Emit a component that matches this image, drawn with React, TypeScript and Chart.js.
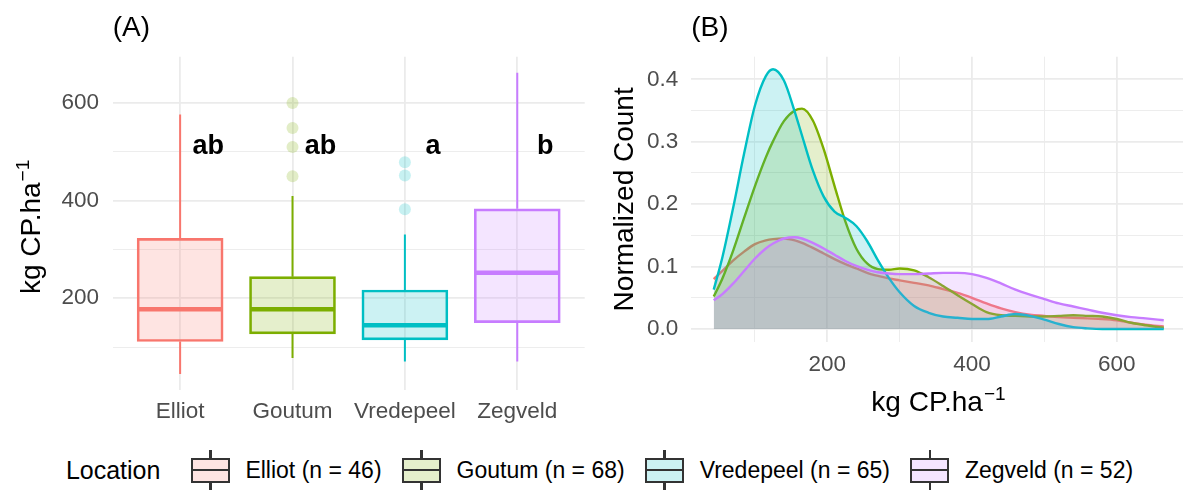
import React, { useEffect, useRef } from "react";
import { Chart, registerables } from "chart.js";

Chart.register(...registerables);

// ---------- data ----------
const locations = ["Elliot", "Goutum", "Vredepeel", "Zegveld"];
const sampleSizes = [46, 68, 65, 52];
const palette = ["#F8766D", "#7CAE00", "#00BFC4", "#C77CFF"];

// box-plot summaries (kg CP.ha-1)
const whiskerLow = [44.7, 77.4, 70.5, 70.5];
const quartile1 = [111.3, 127.1, 114.8, 150.2];
const medians = [177.6, 177.6, 144.9, 252.4];
const quartile3 = [322.7, 244.2, 217.0, 383.2];
const whiskerHigh = [576.8, 409.8, 330.9, 662.0];
const outliers = [[], [599.9, 548.8, 510.0, 450.0], [478.7, 451.5, 382.6], []];
const groupLetters = ["ab", "ab", "a", "b"];
const letterLevel = 510;

// density curves (normalized count)
const densityX = [43, 55, 70, 85, 100, 115, 125, 140, 155, 165, 180, 195, 210, 225, 240, 255, 270, 285, 300, 320, 340, 360, 380, 400, 420, 440, 460, 480, 500, 520, 540, 560, 580, 600, 620, 640, 665];
const densityElliot = [0.080, 0.093, 0.110, 0.124, 0.136, 0.142, 0.144, 0.145, 0.142, 0.138, 0.130, 0.121, 0.112, 0.104, 0.097, 0.090, 0.085, 0.081, 0.078, 0.074, 0.070, 0.064, 0.058, 0.050, 0.041, 0.033, 0.027, 0.023, 0.021, 0.019, 0.018, 0.017, 0.016, 0.014, 0.010, 0.007, 0.004];
const densityGoutum = [0.052, 0.081, 0.126, 0.178, 0.229, 0.275, 0.301, 0.333, 0.350, 0.353, 0.334, 0.288, 0.229, 0.172, 0.129, 0.105, 0.096, 0.095, 0.097, 0.094, 0.083, 0.069, 0.054, 0.040, 0.027, 0.022, 0.021, 0.020, 0.020, 0.021, 0.022, 0.021, 0.020, 0.016, 0.010, 0.006, 0.002];
const densityVredepeel = [0.063, 0.115, 0.195, 0.281, 0.358, 0.405, 0.416, 0.398, 0.348, 0.310, 0.254, 0.212, 0.188, 0.178, 0.165, 0.141, 0.110, 0.082, 0.059, 0.037, 0.026, 0.020, 0.018, 0.016, 0.016, 0.020, 0.024, 0.021, 0.015, 0.008, 0.003, 0.001, 0, 0, 0, 0, 0];
const densityZegveld = [0.046, 0.056, 0.073, 0.093, 0.113, 0.129, 0.137, 0.145, 0.147, 0.145, 0.138, 0.129, 0.119, 0.109, 0.101, 0.095, 0.091, 0.089, 0.088, 0.088, 0.089, 0.090, 0.090, 0.088, 0.082, 0.073, 0.063, 0.055, 0.048, 0.041, 0.036, 0.031, 0.026, 0.022, 0.019, 0.017, 0.014];
const densitySeries = [densityElliot, densityGoutum, densityVredepeel, densityZegveld];

// axis ticks
const boxAxisTicks = [100, 200, 300, 400, 500, 600];
const boxAxisLabelled = [200, 400, 600];
const densityXTicks = [100, 200, 300, 400, 500, 600];
const densityXLabelled = [200, 400, 600];
const densityYTicks = [0, 0.05, 0.1, 0.15, 0.2, 0.25, 0.3, 0.35, 0.4];
const densityYLabelled = ["0.0", "0.1", "0.2", "0.3", "0.4"];

// ---------- styling ----------
const FONT = '"Liberation Sans", Arial, Helvetica, sans-serif';
const GRID = "#EBEBEB";
const TICK_COLOR = "#4D4D4D";
const TITLE_SIZE = 28;
const TICK_SIZE = 22.5;
const LEGEND_TITLE_SIZE = 25;
const LEGEND_TEXT_SIZE = 23;
const BOX_WIDTH = 0.75;

Chart.defaults.font.family = FONT;

const rgba = (hex: string, a: number) => {
  const n = parseInt(hex.slice(1), 16);
  return `rgba(${(n >> 16) & 255},${(n >> 8) & 255},${n & 255},${a})`;
};

function drawSuperscriptLabel(ctx: CanvasRenderingContext2D, x: number, y: number, rotated: boolean, main: string, sup: string, size: number) {
  ctx.save();
  ctx.translate(x, y);
  if (rotated) ctx.rotate(-Math.PI / 2);
  ctx.fillStyle = "#000";
  ctx.textBaseline = "alphabetic";
  ctx.textAlign = "left";
  const supSize = size * 0.68;
  ctx.font = `${size}px ${FONT}`;
  const w1 = ctx.measureText(main).width;
  ctx.font = `${supSize}px ${FONT}`;
  const w2 = ctx.measureText(sup).width;
  const start = -(w1 + w2) / 2;
  ctx.font = `${size}px ${FONT}`;
  ctx.fillText(main, start, 0);
  ctx.font = `${supSize}px ${FONT}`;
  ctx.fillText(sup, start + w1 + 1, -size * 0.38);
  ctx.restore();
}

function drawTag(ctx: CanvasRenderingContext2D, text: string, x: number, y: number) {
  ctx.save();
  ctx.fillStyle = "#000";
  ctx.font = `${TITLE_SIZE}px ${FONT}`;
  ctx.textAlign = "left";
  ctx.textBaseline = "middle";
  ctx.fillText(text, x, y);
  ctx.restore();
}

// ---------- panel A: box plot ----------
function BoxPanel() {
  const ref = useRef<HTMLCanvasElement | null>(null);
  useEffect(() => {
    if (!ref.current) return;
    const datasets: any[] = [];

    datasets.push({
      type: "bar",
      label: "boxes",
      data: locations.map((_, i) => ({ x: i + 1, y: [quartile1[i], quartile3[i]] })),
      backgroundColor: palette.map((c) => rgba(c, 0.2)),
      borderColor: palette,
      borderWidth: 2,
      borderSkipped: false,
      barThickness: 86,
      grouped: false,
      order: 2,
    });

    locations.forEach((_, i) => {
      datasets.push({
        type: "line",
        label: "whisker",
        data: [
          { x: i + 1, y: quartile3[i] },
          { x: i + 1, y: whiskerHigh[i] },
          { x: i + 1, y: null },
          { x: i + 1, y: quartile1[i] },
          { x: i + 1, y: whiskerLow[i] },
        ],
        borderColor: palette[i],
        borderWidth: 2,
        pointRadius: 0,
        fill: false,
        spanGaps: false,
        order: 3,
      });
      datasets.push({
        type: "line",
        label: "median",
        data: [
          { x: i + 1 - BOX_WIDTH / 2, y: medians[i] },
          { x: i + 1 + BOX_WIDTH / 2, y: medians[i] },
        ],
        borderColor: palette[i],
        borderWidth: 4.5,
        pointRadius: 0,
        fill: false,
        order: 1,
      });
      datasets.push({
        type: "scatter",
        label: "outliers",
        data: outliers[i].map((v) => ({ x: i + 1, y: v })),
        backgroundColor: rgba(palette[i], 0.22),
        borderWidth: 0,
        pointRadius: 6,
        order: 4,
      });
    });

    const decor = {
      id: "boxDecor",
      afterDatasetsDraw(chart: any) {
        const { ctx, scales } = chart;
        ctx.save();
        ctx.fillStyle = "#000";
        ctx.font = `bold 27px ${FONT}`;
        ctx.textAlign = "center";
        ctx.textBaseline = "middle";
        groupLetters.forEach((t, i) => {
          ctx.fillText(t, scales.x.getPixelForValue(i + 1.25), scales.y.getPixelForValue(letterLevel));
        });
        ctx.restore();
      },
      afterDraw(chart: any) {
        const { ctx, chartArea } = chart;
        drawTag(ctx, "(A)", chartArea.left, 28);
        drawSuperscriptLabel(ctx, 39.5, (chartArea.top + chartArea.bottom) / 2 + 4, true, "kg CP.ha", "\u22121", TITLE_SIZE);
      },
    };

    const chart = new Chart(ref.current, {
      type: "bar",
      data: { datasets },
      plugins: [decor],
      options: {
        animation: false,
        responsive: false,
        events: [],
        layout: { padding: { top: 56.7, right: 15.3, left: 0, bottom: 0 } },
        plugins: { legend: { display: false }, tooltip: { enabled: false } },
        scales: {
          x: {
            type: "linear",
            min: 0.4,
            max: 4.6,
            offset: false,
            afterBuildTicks: (s: any) => {
              s.ticks = locations.map((_, i) => ({ value: i + 1 }));
            },
            afterFit: (s: any) => {
              s.height = 50;
            },
            ticks: {
              callback: (v: any) => locations[Math.round(Number(v)) - 1],
              color: TICK_COLOR,
              font: { size: TICK_SIZE },
              padding: 8.5,
              autoSkip: false,
              maxRotation: 0,
            },
            grid: { color: GRID, lineWidth: 1.8, drawTicks: false, offset: false },
            border: { display: false },
          },
          y: {
            type: "linear",
            min: 12,
            max: 695,
            afterBuildTicks: (s: any) => {
              s.ticks = boxAxisTicks.map((value) => ({ value }));
            },
            afterFit: (s: any) => {
              s.width = 112.7;
            },
            ticks: {
              callback: (v: any) => (boxAxisLabelled.includes(Number(v)) ? String(v) : ""),
              color: TICK_COLOR,
              font: { size: TICK_SIZE },
              padding: 13.7,
            },
            grid: {
              color: GRID,
              lineWidth: (c: any) => (c.tick && boxAxisLabelled.includes(c.tick.value) ? 1.8 : 0.9),
              drawTicks: false,
            },
            border: { display: false },
          },
        },
      } as any,
    });
    return () => chart.destroy();
  }, []);
  return <canvas ref={ref} width={600} height={440} style={{ position: "absolute", left: 0, top: 0 }} />;
}

// ---------- panel B: density curves ----------
function DensityPanel() {
  const ref = useRef<HTMLCanvasElement | null>(null);
  useEffect(() => {
    if (!ref.current) return;
    const datasets = densitySeries.map((series, i) => ({
      label: locations[i],
      data: densityX.map((x, j) => ({ x, y: series[j] })),
      borderColor: palette[i],
      backgroundColor: rgba(palette[i], 0.2),
      borderWidth: 2.4,
      pointRadius: 0,
      fill: "origin",
      cubicInterpolationMode: "monotone",
      order: locations.length - i,
    }));

    const decor = {
      id: "densityDecor",
      afterDraw(chart: any) {
        const { ctx, chartArea } = chart;
        drawTag(ctx, "(B)", chartArea.left, 28);
        drawSuperscriptLabel(ctx, 33.3, (chartArea.top + chartArea.bottom) / 2, true, "Normalized Count", "", TITLE_SIZE);
        drawSuperscriptLabel(ctx, 338, 410.7, false, "kg CP.ha", "\u22121", TITLE_SIZE);
      },
    };

    const chart = new Chart(ref.current, {
      type: "line",
      data: { datasets } as any,
      plugins: [decor],
      options: {
        animation: false,
        responsive: false,
        events: [],
        layout: { padding: { top: 56.7, right: 0, left: 0, bottom: 0 } },
        plugins: { legend: { display: false }, tooltip: { enabled: false } },
        scales: {
          x: {
            type: "linear",
            min: 12,
            max: 691.6,
            afterBuildTicks: (s: any) => {
              s.ticks = densityXTicks.map((value) => ({ value }));
            },
            afterFit: (s: any) => {
              s.height = 98;
            },
            ticks: {
              callback: (v: any) => (densityXLabelled.includes(Number(v)) ? String(v) : ""),
              color: TICK_COLOR,
              font: { size: TICK_SIZE },
              padding: 9.5,
              autoSkip: false,
              maxRotation: 0,
            },
            grid: {
              color: GRID,
              lineWidth: (c: any) => (c.tick && densityXLabelled.includes(c.tick.value) ? 1.8 : 0.9),
              drawTicks: false,
            },
            border: { display: false },
          },
          y: {
            type: "linear",
            min: -0.0208,
            max: 0.4362,
            afterBuildTicks: (s: any) => {
              s.ticks = densityYTicks.map((value) => ({ value }));
            },
            afterFit: (s: any) => {
              s.width = 91.3;
            },
            ticks: {
              callback: (v: any) => {
                const label = Number(v).toFixed(1);
                return Math.abs(Number(label) - Number(v)) < 1e-9 && densityYLabelled.includes(label) ? label : "";
              },
              color: TICK_COLOR,
              font: { size: TICK_SIZE },
              padding: 13,
            },
            grid: {
              color: GRID,
              lineWidth: (c: any) => {
                if (!c.tick) return 0.9;
                const label = Number(c.tick.value).toFixed(1);
                return Math.abs(Number(label) - c.tick.value) < 1e-9 ? 1.8 : 0.9;
              },
              drawTicks: false,
            },
            border: { display: false },
          },
        },
      } as any,
    });
    return () => chart.destroy();
  }, []);
  return <canvas ref={ref} width={583} height={440} style={{ position: "absolute", left: 600, top: 0 }} />;
}

// ---------- shared legend ----------
const KEY_W = 52;
const KEY_H = 50;

function LegendKey({ color }: { color: string }) {
  const line = "#333333";
  const lw = 2.5;
  return (
    <span style={{ position: "relative", display: "inline-block", width: KEY_W, height: KEY_H, flex: "none" }}>
      <span style={{ position: "absolute", left: KEY_W / 2 - lw / 2, width: lw, top: KEY_H * 0.1, height: KEY_H * 0.15, background: line }} />
      <span style={{ position: "absolute", left: KEY_W / 2 - lw / 2, width: lw, top: KEY_H * 0.75, height: KEY_H * 0.15, background: line }} />
      <span
        style={{
          position: "absolute",
          left: KEY_W * 0.125,
          width: KEY_W * 0.75,
          top: KEY_H * 0.25,
          height: KEY_H * 0.5,
          boxSizing: "border-box",
          border: `${lw}px solid ${line}`,
          background: rgba(color, 0.2),
        }}
      />
      <span style={{ position: "absolute", left: KEY_W * 0.125, width: KEY_W * 0.75, top: KEY_H * 0.5 - lw / 2, height: lw, background: line }} />
    </span>
  );
}

function Legend() {
  return (
    <div
      style={{
        position: "absolute",
        left: 8,
        top: 445,
        width: 1183,
        height: 50,
        display: "flex",
        alignItems: "center",
        justifyContent: "center",
        fontFamily: FONT,
        color: "#000",
        whiteSpace: "nowrap",
      }}
    >
      <span style={{ fontSize: LEGEND_TITLE_SIZE, marginRight: 24 }}>Location</span>
      {locations.map((name, i) => (
        <React.Fragment key={name}>
          <LegendKey color={palette[i]} />
          <span style={{ fontSize: LEGEND_TEXT_SIZE, marginLeft: 9, marginRight: i < locations.length - 1 ? 14 : 0 }}>
            {`${name} (n = ${sampleSizes[i]})`}
          </span>
        </React.Fragment>
      ))}
    </div>
  );
}

export default function App() {
  return (
    <div style={{ position: "fixed", left: 0, top: 0, width: 1183, height: 490, overflow: "hidden", background: "#fff" }}>
      <BoxPanel />
      <DensityPanel />
      <Legend />
    </div>
  );
}
